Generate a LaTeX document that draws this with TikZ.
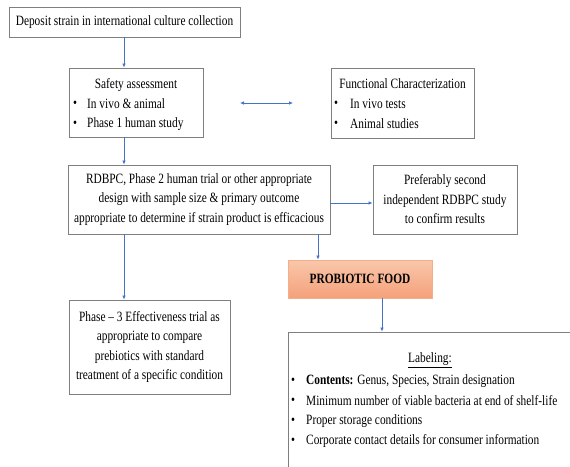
\documentclass[tikz,border=0pt]{standalone}
\usepackage{fontspec}
\setmainfont{Liberation Serif}[FakeStretch=0.8]
\usetikzlibrary{arrows.meta}
\definecolor{boxgray}{HTML}{7F7F7F}
\definecolor{flowblue}{HTML}{4472C4}
\definecolor{peachtop}{HTML}{F9C7AB}
\definecolor{peachbot}{HTML}{F4A17A}
\definecolor{peachline}{HTML}{F4AE88}
\begin{document}
\begin{tikzpicture}[x=1pt,y=-1pt,
  frame/.style={draw=boxgray, line width=0.9pt, fill=white, inner sep=0pt},
  txt/.style={inner sep=0pt, font=\fontsize{14.2}{19.5}\selectfont, align=center},
  bul/.style={inner sep=0pt, font=\fontsize{14.2}{19.5}\selectfont, anchor=west},
  flow/.style={draw=flowblue, line width=0.7pt, -{Latex[length=4pt,width=3.5pt]}},
  flowboth/.style={draw=flowblue, line width=0.7pt, {Latex[length=4pt,width=3.5pt]}-{Latex[length=4pt,width=3.5pt]}}]
\useasboundingbox (0,0) rectangle (570,466);
\clip (0,0) rectangle (570,466);

% boxes
\node[frame, minimum width=231pt, minimum height=30pt] (deposit) at (124.5,22) {};
\node[frame, minimum width=134pt, minimum height=69pt] (safety) at (136,102.5) {};
\node[frame, minimum width=143pt, minimum height=70pt] (func) at (402.5,103) {};
\node[frame, minimum width=262pt, minimum height=69pt] (rdbpc) at (199,199.5) {};
\node[frame, minimum width=144pt, minimum height=69pt] (second) at (445,199.5) {};
\node[draw=peachline, line width=0.9pt, top color=peachtop, bottom color=peachbot,
      minimum width=144pt, minimum height=38pt, inner sep=0pt] (food) at (360,279) {};
\node[frame, minimum width=161pt, minimum height=94pt] (phase3) at (149.5,347) {};
\node[frame, minimum width=300pt, minimum height=160pt] (label) at (438,412) {};

% texts
\node[txt] (deposit-t) at (deposit) {Deposit strain in international culture collection};

\node[txt] (safety-t) at (136,85) {Safety assessment};
\node[bul] (safety-b1) at (73,104) {\textbullet};
\node[bul] (safety-i1) at (87,104) {In vivo \& animal};
\node[bul] (safety-b2) at (73,124) {\textbullet};
\node[bul] (safety-i2) at (87,124) {Phase 1 human study};

\node[txt] (func-t) at (402.5,84) {Functional Characterization};
\node[bul] (func-b1) at (334,104) {\textbullet};
\node[bul] (func-i1) at (350,104) {In vivo tests};
\node[bul] (func-b2) at (334,124) {\textbullet};
\node[bul] (func-i2) at (350,124) {Animal studies};

\node[txt] (rdbpc-t) at (rdbpc) {RDBPC, Phase 2 human trial or other appropriate\\
  design with sample size \& primary outcome\\
  appropriate to determine if strain product is efficacious};

\node[txt] (second-t) at (second) {Preferably second\\independent RDBPC study\\to confirm results};

\node[txt, font=\fontsize{14.2}{19.5}\selectfont\bfseries] (food-t) at (food) {PROBIOTIC FOOD};

\node[txt] (phase3-t) at (phase3) {Phase -- 3 Effectiveness trial as\\appropriate to compare\\prebiotics with standard\\treatment of a specific condition};

\node[txt] (label-t) at (430,360) {\underline{Labeling:}};
\node[bul] (label-b1) at (291,381) {\textbullet};
\node[bul] (label-i1) at (306,381) {\textbf{Contents:} Genus, Species, Strain designation};
\node[bul] (label-b2) at (291,401) {\textbullet};
\node[bul] (label-i2) at (306,401) {Minimum number of viable bacteria at end of shelf-life};
\node[bul] (label-b3) at (291,421) {\textbullet};
\node[bul] (label-i3) at (306,421) {Proper storage conditions};
\node[bul] (label-b4) at (291,441) {\textbullet};
\node[bul] (label-i4) at (306,441) {Corporate contact details for consumer information};

% connectors
\coordinate (dl) at (240,103);
\coordinate (dr) at (293,103);
\draw[flow] (deposit.south -| 124,0) -- (safety.north -| 124,0);
\draw[flowboth] (dl) -- (dr);
\draw[flow] (safety.south -| 124,0) -- (rdbpc.north -| 124,0);
\draw[flow] (rdbpc.east |- 0,203) -- (second.west |- 0,203);
\draw[flow] (rdbpc.south -| 318,0) -- (food.north -| 318,0);
\draw[flow] (rdbpc.south -| 124,0) -- (phase3.north -| 124,0);
\draw[flow] (food.south -| 382,0) -- (label.north -| 382,0);
\end{tikzpicture}
\end{document}
